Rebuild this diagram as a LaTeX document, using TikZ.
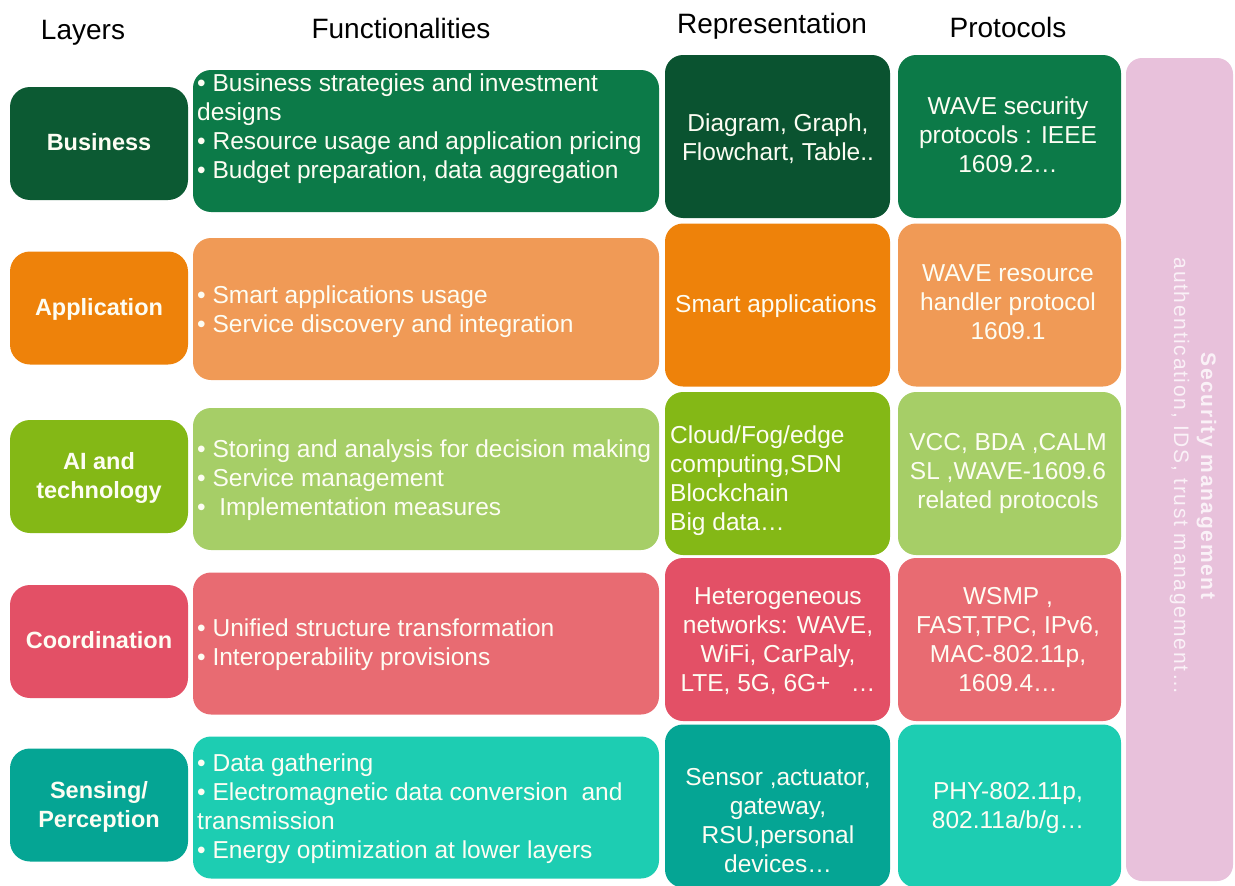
\documentclass[tikz,border=0pt]{standalone}
\usepackage{fontspec}
\setmainfont{Liberation Sans}

% palette
\definecolor{bizL}{HTML}{0C5A33}
\definecolor{bizR}{HTML}{0A5330}
\definecolor{bizF}{HTML}{0C7A48}
\definecolor{appL}{HTML}{EE820A}
\definecolor{appF}{HTML}{F09A56}
\definecolor{aiL}{HTML}{84B816}
\definecolor{aiF}{HTML}{A6CE67}
\definecolor{corL}{HTML}{E35066}
\definecolor{corF}{HTML}{E86B72}
\definecolor{senL}{HTML}{05A594}
\definecolor{senF}{HTML}{1DCDB2}
\definecolor{secB}{HTML}{E8C1DB}
\definecolor{txtc}{HTML}{FDFDF3}
\definecolor{sectxt}{HTML}{FAF1F7}

\newcommand\bodyfont{\fontsize{24.5}{29}\selectfont}
\newcommand\headfont{\fontsize{28}{32}\selectfont}
\newcommand\layerfont{\fontsize{23.5}{29}\selectfont\bfseries}

\begin{document}
\begin{tikzpicture}[x=1pt,y=-1pt,
  cell/.style={rounded corners=18pt, inner sep=0pt, draw=none},
  layerbox/.style={cell, rounded corners=20pt, minimum width=178pt, minimum height=113pt},
  funcbox/.style={cell, minimum width=466pt, minimum height=142pt},
  reprbox/.style={cell, minimum width=225pt, minimum height=163pt},
  protbox/.style={cell, minimum width=223pt, minimum height=163pt},
  head/.style={inner sep=0pt, font=\headfont, text=black,
    execute at begin node=\strut},
  txt/.style={inner sep=0pt, text=txtc, font=\bodyfont, yshift=-3.5pt,
    execute at begin node=\strut, execute at end node=\strut},
  ltxt/.style={txt, font=\layerfont, align=center},
  ctxt/.style={txt, align=center},
  wtxt/.style={txt, align=left, anchor=west}]

\useasboundingbox (0,0) rectangle (1235,886);

% column headings
\node[head] (h-layers) at (83,33) {Layers};
\node[head] (h-func)   at (401,32) {Functionalities};
\node[head] (h-repr)   at (772,27) {Representation};
\node[head] (h-prot)   at (1008,31) {Protocols};

% security management band
\node[cell, rounded corners=16pt, fill=secB, minimum width=107pt, minimum height=823pt]
  (sec) at (1179.5,469.5) {};
\node[inner sep=0pt, rotate=-90, align=center, text=sectxt,
  font=\fontsize{21}{27}\selectfont\addfontfeature{LetterSpace=8}]
  (sec-t) at (1193,476)
  {{\bfseries Security management}\\authentication, IDS, trust management…};

% ---- Business
\node[layerbox, fill=bizL] (biz-l) at (99,143.5) {};
\node[funcbox,  fill=bizF] (biz-f) at (426,141) {};
\node[reprbox,  fill=bizR] (biz-r) at (777.5,136.5) {};
\node[protbox,  fill=bizF] (biz-p) at (1009.5,136.5) {};
\node[ltxt] (biz-lt) at (99,141) {Business};
\node[wtxt] (biz-ft) at (197,126.5) {• Business strategies and investment\\designs\\• Resource usage and application pricing\\• Budget preparation, data aggregation};
\node[ctxt] (biz-rt) at (778,137.5) {Diagram, Graph,\\Flowchart, Table..};
\node[ctxt] (biz-pt) at (1008,135.5) {WAVE security\\protocols : IEEE\\1609.2…};

% ---- Application
\node[layerbox, fill=appL] (app-l) at (99,308) {};
\node[funcbox,  fill=appF] (app-f) at (426,309) {};
\node[reprbox,  fill=appL] (app-r) at (777.5,305) {};
\node[protbox,  fill=appF] (app-p) at (1009.5,305) {};
\node[ltxt] (app-lt) at (99,306) {Application};
\node[wtxt] (app-ft) at (197,309.5) {• Smart applications usage\\• Service discovery and integration};
\node[ctxt] (app-rt) at (776,303) {Smart applications};
\node[ctxt] (app-pt) at (1008,303) {WAVE resource\\handler protocol\\1609.1};

% ---- AI and technology
\node[layerbox, fill=aiL] (ai-l) at (99,476.5) {};
\node[funcbox,  fill=aiF] (ai-f) at (426,479) {};
\node[reprbox,  fill=aiL] (ai-r) at (777.5,473.5) {};
\node[protbox,  fill=aiF] (ai-p) at (1009.5,473.5) {};
\node[ltxt] (ai-lt) at (99,476.5) {AI and\\technology};
\node[wtxt] (ai-ft) at (197,478.5) {• Storing and analysis for decision making\\• Service management\\•\ \ Implementation measures};
\node[wtxt] (ai-rt) at (670,479) {Cloud/Fog/edge\\computing,SDN\\Blockchain\\Big data…};
\node[ctxt] (ai-pt) at (1008,472) {VCC, BDA ,CALM\\SL ,WAVE-1609.6\\related protocols};

% ---- Coordination
\node[layerbox, fill=corL] (cor-l) at (99,641.5) {};
\node[funcbox,  fill=corF] (cor-f) at (426,643.5) {};
\node[reprbox,  fill=corL] (cor-r) at (777.5,639.5) {};
\node[protbox,  fill=corF] (cor-p) at (1009.5,639.5) {};
\node[ltxt] (cor-lt) at (99,639) {Coordination};
\node[wtxt] (cor-ft) at (197,642.5) {• Unified structure transformation\\• Interoperability provisions};
\node[ctxt] (cor-rt) at (778,640.5) {Heterogeneous\\networks: WAVE,\\WiFi, CarPaly,\\LTE, 5G, 6G+\ \ \ …};
\node[ctxt] (cor-pt) at (1008,640.5) {WSMP ,\\FAST,TPC, IPv6,\\MAC-802.11p,\\1609.4…};

% ---- Sensing / Perception
\node[layerbox, fill=senL] (sen-l) at (99,805) {};
\node[funcbox,  fill=senF] (sen-f) at (426,807.5) {};
\node[reprbox,  fill=senL] (sen-r) at (777.5,806) {};
\node[protbox,  fill=senF] (sen-p) at (1009.5,806) {};
\node[ltxt] (sen-lt) at (99,805.5) {Sensing/\\Perception};
\node[wtxt] (sen-ft) at (197,807) {• Data gathering\\• Electromagnetic data conversion\ \ and\\transmission\\• Energy optimization at lower layers};
\node[ctxt] (sen-rt) at (778,821.5) {Sensor ,actuator,\\gateway,\\RSU,personal\\devices…};
\node[ctxt] (sen-pt) at (1008,806.5) {PHY-802.11p,\\802.11a/b/g…};

\end{tikzpicture}
\end{document}
